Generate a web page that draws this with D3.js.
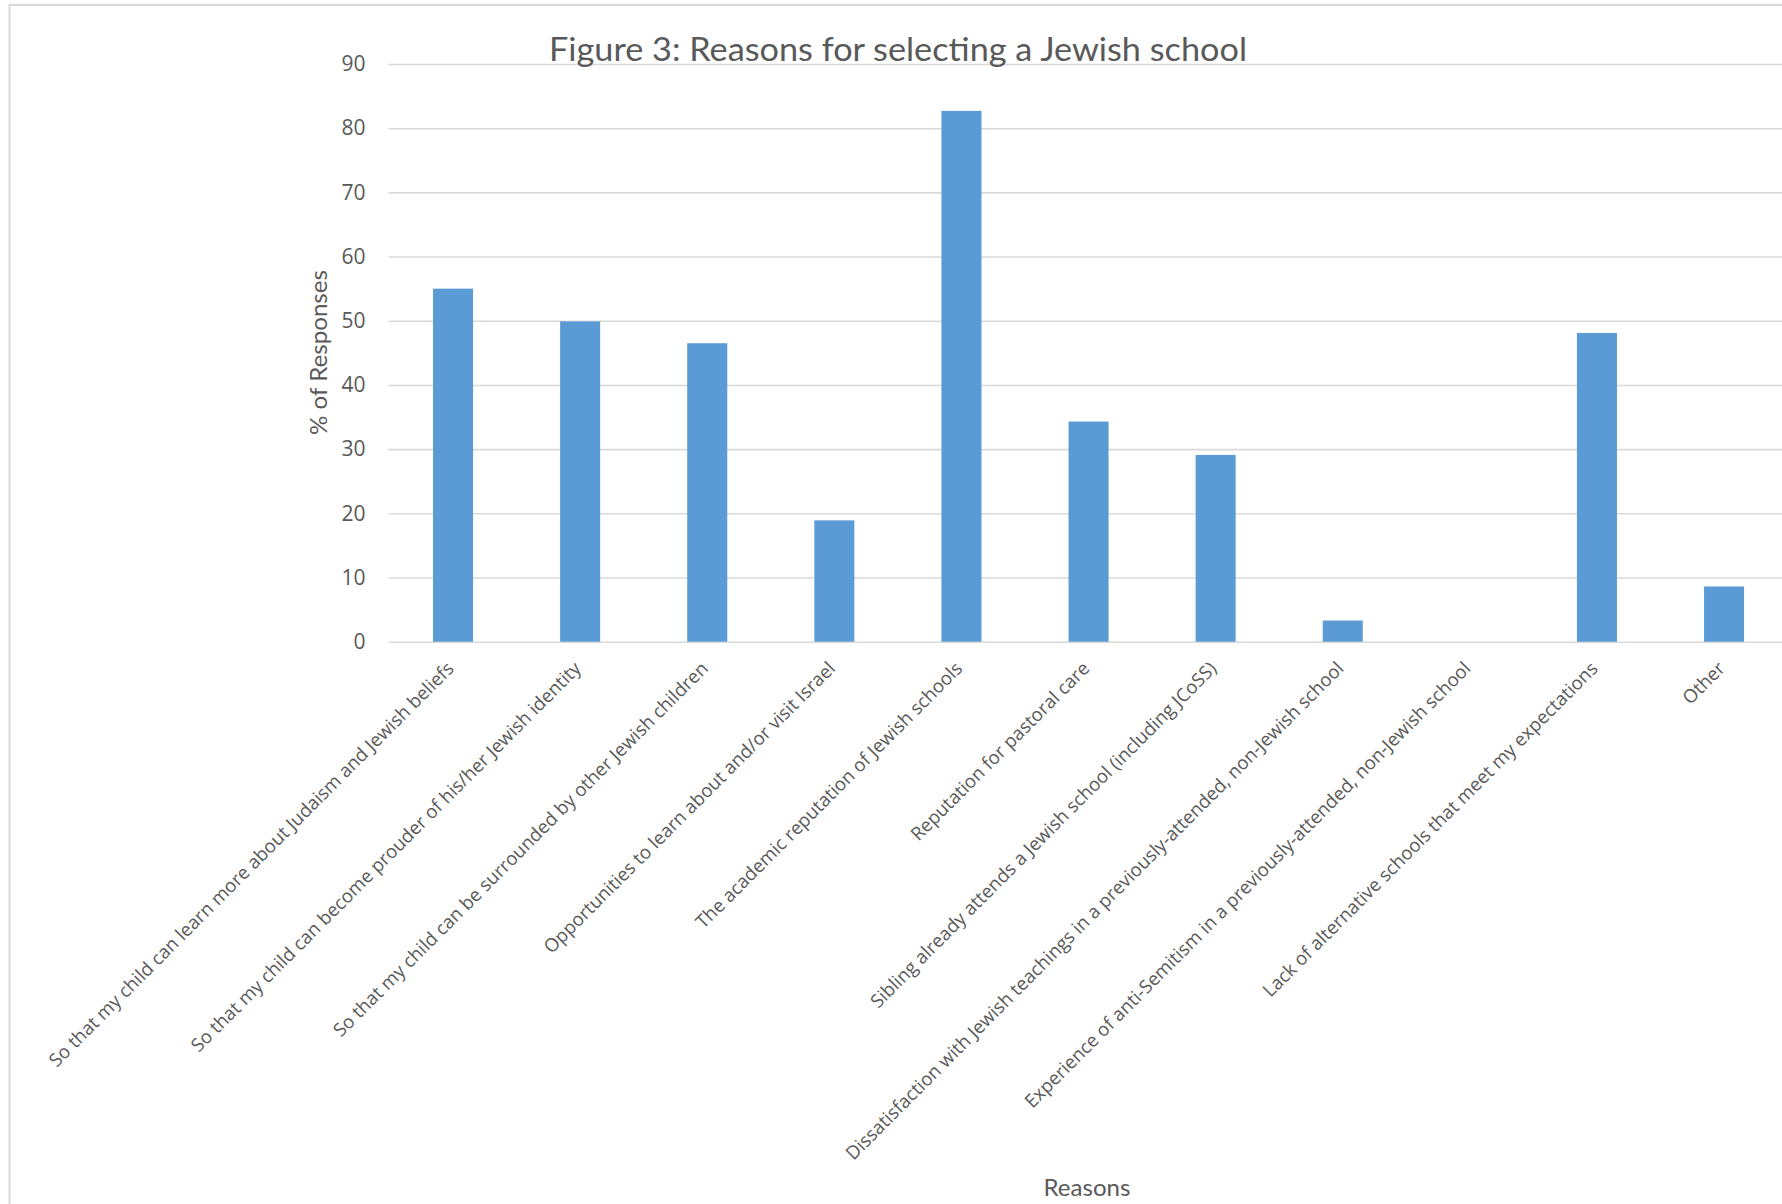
<!DOCTYPE html>
<html>
<head>
<meta charset="utf-8">
<script src="https://cdn.jsdelivr.net/npm/d3@7"></script>
<style>
  html, body { margin: 0; padding: 0; background: #ffffff; }
  svg { display: block; }
</style>
</head>
<body>
<svg id="chart" width="1782" height="1204"></svg>
<script>
// Survey results: reasons parents gave for choosing a Jewish school
const categories = [
  "So that my child can learn more about Judaism and Jewish beliefs",
  "So that my child can become prouder of his/her Jewish identity",
  "So that my child can be surrounded by other Jewish children",
  "Opportunities to learn about and/or visit Israel",
  "The academic reputation of Jewish schools",
  "Reputation for pastoral care",
  "Sibling already attends a Jewish school (including JCoSS)",
  "Dissatisfaction with Jewish teachings in a previously-attended, non-Jewish school",
  "Experience of anti-Semitism in a previously-attended, non-Jewish school",
  "Lack of alternative schools that meet my expectations",
  "Other"
];
const responses = [55.0, 49.9, 46.5, 18.9, 82.7, 34.3, 29.1, 3.3, 0, 48.1, 8.6];
const yTicks = [0, 10, 20, 30, 40, 50, 60, 70, 80, 90];

const titleText = "Figure 3: Reasons for selecting a Jewish school";
const yTitle = "% of Responses";
const xTitle = "Reasons";

const svg = d3.select("#chart");
const W = 1782, H = 1204;

// plot area
const plot = { left: 389.5, right: 1787.6, top: 64, bottom: 641.7 };

// outer chart frame (runs off the right and bottom edges)
svg.append("rect")
  .attr("x", 9.5).attr("y", 5)
  .attr("width", W + 20).attr("height", H + 20)
  .attr("fill", "#ffffff")
  .attr("stroke", "#d9d9d9")
  .attr("stroke-width", 2);

const x = d3.scaleBand()
  .domain(categories)
  .range([plot.left, plot.right])
  .paddingInner(0.685)
  .paddingOuter(0.3425);

const y = d3.scaleLinear()
  .domain([0, 90])
  .range([plot.bottom, plot.top]);

// value axis with horizontal gridlines
const yAxis = svg.append("g")
  .attr("transform", `translate(${plot.left - 1},0)`)
  .call(d3.axisLeft(y)
    .tickValues(yTicks)
    .tickSize(-(W - plot.left + 10))
    .tickPadding(23)
    .tickFormat(d3.format("d")));
yAxis.select(".domain").remove();
yAxis.selectAll(".tick line")
  .attr("stroke", "#d9d9d9")
  .attr("stroke-width", 1.6);
yAxis.selectAll(".tick text")
  .attr("fill", "#595959")
  .attr("font-family", "'Open Sans', sans-serif")
  .attr("font-size", 21);

// bars
svg.append("g")
  .selectAll("rect")
  .data(categories)
  .join("rect")
  .attr("x", d => x(d))
  .attr("width", x.bandwidth())
  .attr("y", (d, i) => y(responses[i]))
  .attr("height", (d, i) => y(0) - y(responses[i]))
  .attr("fill", "#5b9bd5");

// category axis with rotated labels
const xAxis = svg.append("g")
  .attr("transform", `translate(0,${plot.bottom})`)
  .call(d3.axisBottom(x).tickSize(0).tickPadding(0));
xAxis.select(".domain").remove();
xAxis.selectAll(".tick text")
  .attr("fill", "#595959")
  .attr("font-family", "'Open Sans', sans-serif")
  .attr("font-size", 18.6)
  .attr("text-anchor", "end")
  .attr("dy", 0)
  .attr("y", 0)
  .attr("transform", "translate(2,28) rotate(-45)");

// chart title
svg.append("text")
  .attr("x", 898).attr("y", 61)
  .attr("text-anchor", "middle")
  .attr("font-family", "Lato, sans-serif")
  .attr("font-weight", 400)
  .attr("font-size", 33)
  .attr("fill", "#595959")
  .attr("textLength", 698)
  .attr("lengthAdjust", "spacingAndGlyphs")
  .text(titleText);

// value axis title
svg.append("text")
  .attr("transform", "translate(326.7,352.5) rotate(-90)")
  .attr("text-anchor", "middle")
  .attr("font-family", "Lato, sans-serif")
  .attr("font-weight", 400)
  .attr("font-size", 24)
  .attr("fill", "#595959")
  .attr("textLength", 165)
  .attr("lengthAdjust", "spacingAndGlyphs")
  .text(yTitle);

// category axis title
svg.append("text")
  .attr("x", 1087).attr("y", 1195.7)
  .attr("text-anchor", "middle")
  .attr("font-family", "Lato, sans-serif")
  .attr("font-weight", 400)
  .attr("font-size", 24)
  .attr("fill", "#595959")
  .attr("textLength", 87)
  .attr("lengthAdjust", "spacingAndGlyphs")
  .text(xTitle);
</script>
</body>
</html>
